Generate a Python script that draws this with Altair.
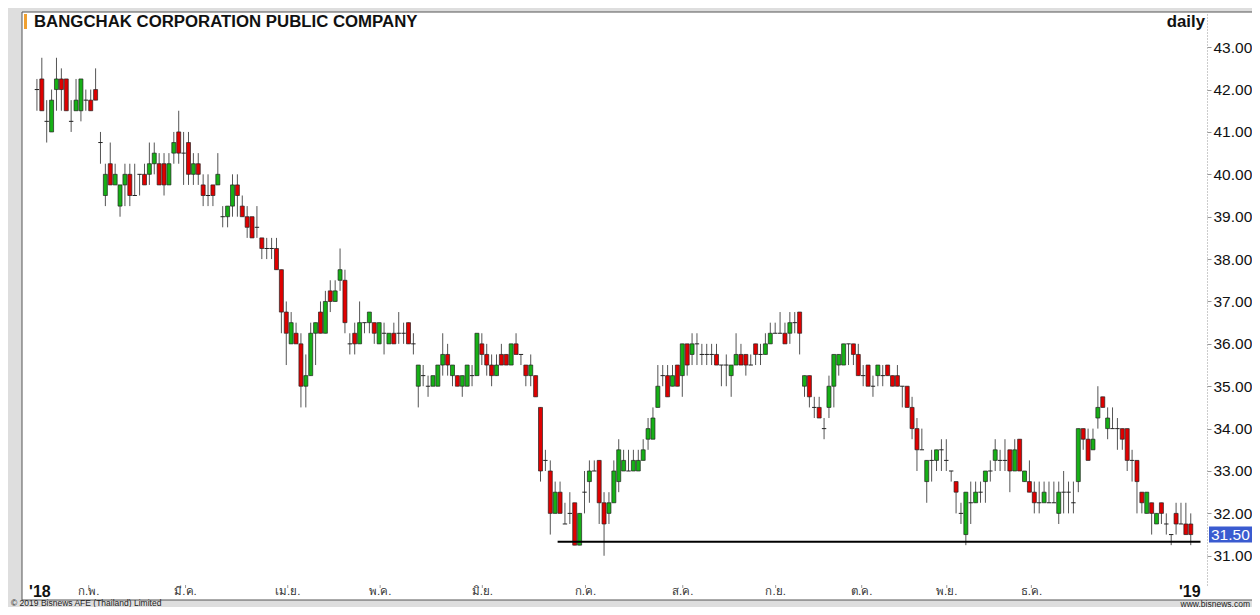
import altair as alt
import pandas as pd

# ---------------- data ----------------
opens = [
    42.0, 42.25, 41.25, 41.0, 42.0, 42.25, 42.25, 41.25, 41.5, 41.5,
    41.75, 41.75, 42.0, 40.75, 39.5, 40.25, 39.75, 39.25, 39.75, 40.0,
    39.5, 40.0, 40.0, 40.0, 40.25, 40.25, 40.25, 39.75, 40.5, 41.0,
    40.5, 40.75, 40.0, 40.25, 39.75, 39.5, 39.75, 39.75, 39.0, 39.0,
    39.25, 39.75, 39.25, 39.0, 39.0, 38.75, 38.5, 38.25, 38.25, 38.25,
    37.75, 36.75, 36.0, 36.25, 36.0, 35.0, 35.25, 36.25, 36.75, 36.25,
    37.25, 37.0, 37.5, 37.5, 36.0, 36.25, 36.0, 36.5, 36.5, 36.5,
    36.0, 36.25, 36.0, 36.25, 36.25, 36.25, 36.5, 36.0, 35.0, 35.25,
    35.0, 35.0, 35.0, 35.5, 35.75, 35.25, 35.25, 35.0, 35.0, 35.25,
    35.25, 36.0, 35.75, 35.5, 35.25, 35.75, 35.75, 35.5, 36.0, 35.75,
    35.5, 35.25, 35.25, 34.5, 33.25, 33.0, 32.0, 32.5, 31.75, 32.0,
    32.25, 31.25, 32.5, 32.75, 33.0, 33.25, 32.25, 32.0, 32.25, 32.75,
    33.0, 33.0, 33.0, 33.0, 33.25, 33.75, 33.75, 34.5, 35.25, 35.25,
    35.0, 35.5, 35.25, 36.0, 35.75, 36.0, 35.75, 35.75, 35.75, 35.75,
    35.5, 35.5, 35.25, 35.5, 35.75, 35.75, 35.5, 36.0, 35.75, 35.75,
    36.0, 36.25, 36.25, 36.25, 36.25, 36.5, 36.75, 35.0, 35.25, 34.5,
    34.5, 34.0, 34.5, 35.0, 35.5, 35.5, 36.0, 36.0, 35.75, 35.25,
    35.5, 35.0, 35.25, 35.25, 35.5, 35.25, 35.25, 35.0, 35.0, 34.5,
    34.0, 33.5, 32.75, 33.25, 33.25, 33.5, 33.25, 33.0, 32.75, 32.0,
    31.5, 32.25, 32.25, 32.5, 32.75, 33.0, 33.25, 33.25, 33.25, 33.5,
    33.0, 33.75, 32.75, 32.75, 32.5, 32.25, 32.25, 32.25, 32.25, 32.0,
    32.5, 32.5, 32.25, 32.75, 34.0, 33.75, 33.5, 34.25, 34.75, 34.0,
    34.0, 34.0, 34.0, 34.0, 33.25, 33.25, 32.5, 32.0, 32.25, 31.75,
    32.25, 31.75, 31.5, 32.0, 31.75, 31.75, 31.75,
]
highs = [
    42.25, 42.75, 41.75, 42.0, 42.75, 42.5, 42.25, 41.75, 42.25, 42.25,
    42.0, 42.0, 42.5, 41.0, 40.25, 40.75, 40.25, 39.75, 40.25, 40.25,
    40.25, 40.0, 40.25, 40.75, 40.75, 40.5, 40.5, 40.5, 41.0, 41.5,
    41.0, 41.0, 40.5, 40.5, 40.0, 40.0, 39.75, 40.5, 39.25, 39.25,
    40.0, 40.0, 39.5, 39.25, 39.0, 39.25, 38.5, 38.5, 38.5, 38.5,
    37.75, 37.0, 36.75, 36.5, 36.25, 35.75, 36.5, 36.5, 37.0, 37.25,
    37.5, 37.5, 38.25, 37.75, 36.25, 36.5, 37.0, 36.5, 36.75, 36.5,
    36.5, 36.5, 36.25, 36.5, 36.75, 36.5, 36.5, 36.25, 35.5, 35.5,
    35.25, 35.25, 35.5, 36.25, 36.0, 35.5, 35.25, 35.25, 35.5, 35.5,
    36.25, 36.25, 36.0, 35.75, 35.75, 36.0, 35.75, 36.0, 36.25, 35.75,
    35.5, 35.75, 35.25, 34.5, 33.5, 33.25, 32.75, 32.75, 32.25, 32.5,
    32.25, 32.0, 33.0, 33.25, 33.25, 33.25, 32.5, 32.5, 33.25, 33.75,
    33.5, 33.5, 33.5, 33.5, 33.75, 34.25, 34.5, 35.5, 35.5, 35.5,
    35.5, 35.5, 36.0, 36.0, 36.25, 36.25, 36.0, 36.0, 36.0, 36.0,
    35.5, 35.75, 35.5, 36.25, 36.0, 35.75, 35.75, 36.0, 36.0, 36.25,
    36.5, 36.5, 36.75, 36.5, 36.75, 36.75, 36.75, 35.25, 35.25, 34.75,
    34.75, 34.25, 35.25, 35.75, 35.75, 36.0, 36.0, 36.0, 36.0, 35.5,
    35.5, 35.25, 35.5, 35.5, 35.5, 35.25, 35.5, 35.0, 35.0, 34.75,
    34.25, 34.0, 33.25, 33.5, 33.5, 33.75, 33.75, 33.0, 32.75, 32.25,
    32.5, 32.75, 32.75, 32.75, 33.0, 33.25, 33.75, 33.5, 33.75, 33.5,
    33.75, 33.75, 33.0, 33.25, 32.75, 32.75, 32.75, 32.75, 32.75, 32.75,
    33.0, 32.75, 32.75, 34.0, 34.0, 34.0, 34.0, 35.0, 34.75, 34.5,
    34.5, 34.25, 34.0, 34.0, 33.5, 33.25, 32.5, 32.5, 32.25, 32.0,
    32.25, 32.0, 31.5, 32.25, 32.25, 32.25, 32.0,
]
lows = [
    41.5, 41.5, 40.75, 41.0, 41.5, 41.5, 41.5, 41.0, 41.5, 41.25,
    41.5, 41.5, 41.75, 40.25, 39.25, 39.75, 39.75, 39.0, 39.25, 39.25,
    39.5, 39.5, 39.75, 39.75, 40.0, 39.75, 39.5, 39.75, 40.25, 40.25,
    39.75, 39.75, 39.75, 39.75, 39.25, 39.25, 39.25, 39.75, 38.75, 38.75,
    39.0, 39.0, 39.0, 38.5, 38.5, 38.5, 38.0, 38.0, 38.0, 37.75,
    36.25, 35.5, 36.0, 36.0, 34.5, 34.5, 35.25, 35.5, 36.25, 36.25,
    36.75, 37.0, 37.25, 36.25, 35.75, 35.75, 36.0, 36.25, 36.25, 36.0,
    36.0, 35.75, 36.0, 36.0, 36.0, 36.0, 36.0, 35.75, 34.5, 35.0,
    34.75, 35.0, 35.0, 35.25, 35.25, 35.0, 35.0, 34.75, 35.0, 35.0,
    35.25, 35.5, 35.25, 35.0, 35.25, 35.5, 35.5, 35.5, 35.75, 35.5,
    35.0, 35.0, 34.75, 32.75, 33.0, 31.5, 32.0, 32.0, 31.75, 31.75,
    31.25, 31.25, 32.0, 32.25, 33.0, 31.75, 31.0, 31.75, 32.25, 32.5,
    33.0, 33.0, 33.0, 33.0, 33.25, 33.5, 33.75, 34.5, 35.0, 34.75,
    35.0, 35.0, 34.75, 35.25, 35.5, 35.5, 35.5, 35.5, 35.5, 35.5,
    35.0, 35.0, 34.75, 35.5, 35.5, 35.25, 35.5, 35.5, 35.5, 35.75,
    36.0, 36.25, 36.25, 36.0, 36.0, 36.25, 35.75, 34.75, 34.5, 34.25,
    34.25, 33.75, 34.25, 34.5, 35.25, 35.5, 35.5, 35.5, 35.25, 35.0,
    35.0, 34.75, 35.0, 35.0, 35.25, 35.0, 35.0, 34.5, 34.5, 33.75,
    33.0, 33.5, 32.25, 32.75, 33.0, 33.0, 33.0, 32.75, 32.0, 31.75,
    31.25, 31.75, 32.25, 32.25, 32.25, 32.75, 33.0, 33.0, 33.0, 32.5,
    33.0, 33.0, 32.75, 32.5, 32.0, 32.0, 32.25, 32.25, 32.25, 31.75,
    32.0, 32.0, 32.0, 32.5, 33.5, 33.25, 33.5, 34.0, 34.5, 33.75,
    34.0, 33.5, 33.5, 33.0, 32.75, 32.0, 32.0, 32.0, 31.5, 31.75,
    31.75, 31.5, 31.25, 31.5, 31.75, 31.5, 31.25,
]
closes = [
    42.0, 41.5, 41.25, 41.75, 42.25, 42.0, 41.5, 41.25, 41.75, 42.25,
    41.75, 41.5, 41.75, 40.75, 40.0, 39.75, 40.0, 39.75, 40.0, 39.5,
    39.5, 40.0, 39.75, 40.25, 40.5, 39.75, 39.75, 40.25, 40.75, 40.5,
    40.5, 40.0, 40.25, 40.0, 39.5, 39.5, 39.5, 40.0, 39.0, 39.25,
    39.75, 39.5, 39.0, 38.75, 38.5, 38.75, 38.25, 38.25, 38.25, 37.75,
    36.75, 36.25, 36.5, 36.0, 35.0, 35.25, 36.25, 36.5, 36.25, 37.0,
    37.0, 37.25, 37.75, 36.5, 36.0, 36.0, 36.5, 36.5, 36.75, 36.25,
    36.5, 36.25, 36.25, 36.0, 36.25, 36.25, 36.0, 36.0, 35.5, 35.25,
    35.0, 35.25, 35.5, 35.75, 35.5, 35.5, 35.0, 35.25, 35.5, 35.25,
    36.25, 35.75, 35.5, 35.25, 35.5, 35.5, 35.5, 36.0, 35.75, 35.75,
    35.25, 35.5, 34.75, 33.0, 33.25, 32.0, 32.5, 32.0, 31.75, 32.0,
    31.25, 32.0, 32.5, 33.0, 33.0, 32.25, 31.75, 32.25, 33.0, 33.5,
    33.25, 33.0, 33.25, 33.25, 33.5, 34.0, 34.25, 35.0, 35.25, 34.75,
    35.25, 35.0, 36.0, 35.5, 36.0, 36.0, 35.75, 35.75, 35.75, 35.5,
    35.5, 35.5, 35.5, 35.75, 35.5, 35.5, 35.5, 35.75, 35.75, 36.0,
    36.25, 36.25, 36.25, 36.0, 36.5, 36.5, 36.25, 35.25, 34.75, 34.5,
    34.25, 34.0, 35.0, 35.75, 35.75, 36.0, 36.0, 35.75, 35.25, 35.25,
    35.0, 35.0, 35.5, 35.25, 35.25, 35.0, 35.0, 35.0, 34.5, 34.0,
    33.5, 33.5, 33.25, 33.25, 33.5, 33.5, 33.25, 33.0, 32.5, 32.0,
    32.5, 32.25, 32.5, 32.5, 33.0, 33.0, 33.5, 33.25, 33.25, 33.0,
    33.5, 33.0, 33.0, 32.5, 32.25, 32.25, 32.5, 32.25, 32.25, 32.5,
    32.5, 32.5, 32.25, 34.0, 33.75, 33.25, 33.75, 34.5, 34.5, 34.25,
    34.0, 34.0, 33.75, 33.25, 33.25, 32.75, 32.25, 32.5, 32.0, 32.0,
    32.0, 31.75, 31.5, 31.75, 31.75, 31.5, 31.5,
]

month_labels = ["ก.พ.", "มี.ค.", "เม.ย.", "พ.ค.", "มิ.ย.", "ก.ค.",
                "ส.ค.", "ก.ย.", "ต.ค.", "พ.ย.", "ธ.ค."]
month_pos = [10.6, 30.4, 51.3, 70.2, 91.1, 112.2, 132.1, 151.1, 168.7, 186.1, 203.4]
year_labels = ["'18", "'19"]
year_pos = [-1.6, 233.6]
price_ticks = [31, 32, 33, 34, 35, 36, 37, 38, 39, 40, 41, 42, 43]
support_level = [31.33]
support_from = [106.5]
support_to = [238.0]
title_text = "BANGCHAK CORPORATION PUBLIC COMPANY"

# ---------------- build ----------------
W, H = 1185, 573
XDOM = [-2.03, 238.3]
YDOM = [30.31, 43.83]
FONT = "Liberation Sans"

df = pd.DataFrame({"open": opens, "high": highs, "low": lows, "close": closes})
df["idx"] = list(range(len(df)))
df["dir"] = ["up" if c > o else ("down" if c < o else "flat") for o, c in zip(opens, closes)]
df["a"] = df["idx"] - 0.45
df["b"] = df["idx"] + 0.45

xs = alt.Scale(domain=XDOM, nice=False, zero=False)
ys = alt.Scale(domain=YDOM, nice=False, zero=False)

one = pd.DataFrame({"k": [0]})

white = alt.Chart(one).mark_rect(fill="white", stroke="#555", strokeWidth=1).encode(
    x=alt.value(0), x2=alt.value(1236), y=alt.value(0), y2=alt.value(588))

base = alt.Chart(df)

wicks = base.mark_rule(color="#555", strokeWidth=1).encode(
    x=alt.X("idx:Q", scale=xs, axis=None),
    y=alt.Y("low:Q", scale=ys,
            axis=alt.Axis(orient="right", values=price_ticks, format=".2f",
                          labelFontSize=15.5, labelFont=FONT, labelColor="#111",
                          tickColor="#999", tickSize=4, labelPadding=2, zindex=2,
                          domainColor="#999", domainDash=[1, 2], grid=False, title=None)),
    y2="high:Q",
)

bodies = base.transform_filter("datum.dir != 'flat'").mark_bar(
    size=4, stroke="#222", strokeWidth=0.7).encode(
    x=alt.X("idx:Q"),
    y=alt.Y("open:Q"),
    y2="close:Q",
    fill=alt.Fill("dir:N", scale=alt.Scale(domain=["up", "down"], range=["#16b016", "#e00000"]),
                  legend=None),
)

dojis = base.transform_filter("datum.dir == 'flat'").mark_rule(color="#222", strokeWidth=1).encode(
    x=alt.X("a:Q"), x2="b:Q", y=alt.Y("close:Q"))

sdf = pd.DataFrame({"x0": support_from, "x1": support_to, "lv": support_level})
support = alt.Chart(sdf).mark_rule(color="black", strokeWidth=2).encode(
    x=alt.X("x0:Q"), x2="x1:Q", y=alt.Y("lv:Q"))

mdf = pd.DataFrame({"pos": month_pos, "lab": month_labels})
months = alt.Chart(mdf).mark_text(fontSize=11.5, color="#333", baseline="middle").encode(
    x=alt.X("pos:Q"), y=alt.value(580), text="lab:N")
mticks = alt.Chart(mdf).mark_rule(color="#999").encode(
    x=alt.X("pos:Q"), y=alt.value(573), y2=alt.value(576))

ydf = pd.DataFrame({"pos": year_pos, "lab": year_labels})
years = alt.Chart(ydf).mark_text(fontSize=16, fontWeight="bold", color="#111",
                                 align="left", baseline="middle").encode(
    x=alt.X("pos:Q"), y=alt.value(580), text="lab:N")

marker = alt.Chart(one).mark_rect(fill="#f0a030").encode(
    x=alt.value(2), x2=alt.value(5), y=alt.value(2), y2=alt.value(17))
title = alt.Chart(one).mark_text(fontSize=16.8, fontWeight="bold",
                                 align="left", baseline="middle", color="#111").encode(
    x=alt.value(12), y=alt.value(10), text=alt.value(title_text))
daily = alt.Chart(one).mark_text(fontSize=16.8, fontWeight="bold",
                                 align="right", baseline="middle", color="#111").encode(
    x=alt.value(1183), y=alt.value(10), text=alt.value("daily"))

last_df = pd.DataFrame({"p": [closes[-1]], "lab": [f"{closes[-1]:.2f}"]})
last_df["p1"] = last_df["p"] + 0.19
last_df["p0"] = last_df["p"] - 0.19
last_box = alt.Chart(last_df).mark_rect(fill="#3a5bd0").encode(
    x=alt.value(1187), x2=alt.value(1230), y=alt.Y("p1:Q"), y2="p0:Q")
last_txt = alt.Chart(last_df).mark_text(fontSize=15.5, color="white",
                                        align="left", baseline="middle").encode(
    x=alt.value(1189), y=alt.Y("p:Q"), text="lab:N")

copy_txt = alt.Chart(one).mark_text(fontSize=8.5, align="left", baseline="middle", color="#222").encode(
    x=alt.value(-11), y=alt.value(591), text=alt.value("© 2019 Bisnews AFE (Thailand) Limited"))
web_txt = alt.Chart(one).mark_text(fontSize=8.5, align="right", baseline="middle", color="#222").encode(
    x=alt.value(1228), y=alt.value(591.5), text=alt.value("www.bisnews.com"))

chart = alt.layer(
    white, wicks, bodies, dojis, support, mticks, months, years,
    marker, title, daily, last_box, last_txt, copy_txt, web_txt
).properties(
    width=W, height=H,
    padding={"left": 14, "top": 4, "right": 45, "bottom": 22},
    autosize=alt.AutoSizeParams(type="none"),
    background="#dedede",
).configure_view(fill="white", stroke="#444", strokeWidth=1).configure_text(font=FONT)

chart.save("out.html", embed_options={"renderer": "svg", "actions": False})
